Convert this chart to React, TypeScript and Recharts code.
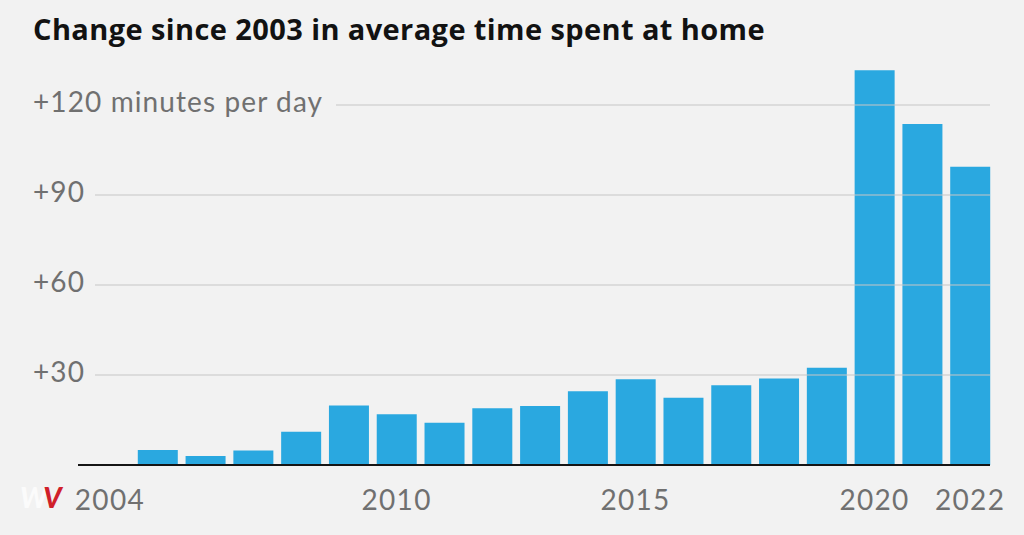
import React from 'react';
import { BarChart, Bar, XAxis, YAxis } from 'recharts';

// Change since 2003 in average daily minutes spent at home
const years = [
  '2004', '2005', '2006', '2007', '2008', '2009', '2010', '2011', '2012', '2013',
  '2014', '2015', '2016', '2017', '2018', '2019', '2020', '2021', '2022',
];
const minutesChange = [
  0, 5, 3, 4.8, 11.1, 19.8, 16.9, 14.1, 18.9, 19.7,
  24.6, 28.6, 22.4, 26.6, 28.8, 32.4, 131.6, 113.7, 99.4,
];
const xTicks = ['2004', '2010', '2015', '2020', '2022'];
const yTicks = [0, 30, 60, 90, 120];

const data = years.map((year, i) => ({ year, value: minutesChange[i] }));

const BG = '#f2f2f2';
const BAR = '#2aa8e0';
const GRID = '#c6c6c6';
const LABEL = '#707070';
const FONT = 'Lato, "Open Sans", sans-serif';

const PLOT_RIGHT = 990;

// eslint-disable-next-line @typescript-eslint/no-explicit-any
function YTick({ y, payload }: any) {
  const v = payload.value as number;
  if (v === 0) {
    // baseline
    return <line x1={78} x2={PLOT_RIGHT} y1={y} y2={y} stroke="#151515" strokeWidth={2} />;
  }
  const label = v === 120 ? `+${v} minutes per day` : `+${v}`;
  const lineStart = v === 120 ? 336 : 95;
  return (
    <g>
      <text
        x={33}
        y={y}
        dy={7}
        textAnchor="start"
        fill={LABEL}
        fontSize={28}
        letterSpacing={1.1}
        fontFamily={FONT}
      >
        {label}
      </text>
      <line x1={lineStart} x2={PLOT_RIGHT} y1={y} y2={y} stroke={GRID} strokeWidth={1.2} />
    </g>
  );
}

// eslint-disable-next-line @typescript-eslint/no-explicit-any
function XTick({ x, y, payload }: any) {
  return (
    <text
      x={x}
      y={y}
      dy={37}
      textAnchor="middle"
      fill={LABEL}
      fontSize={28}
      letterSpacing={1.3}
      fontFamily={FONT}
    >
      {payload.value}
    </text>
  );
}

export default function App() {
  return (
    <div
      style={{
        position: 'fixed',
        left: 0,
        top: 0,
        width: 1024,
        height: 535,
        background: BG,
        overflow: 'hidden',
      }}
    >
      <div
        style={{
          position: 'absolute',
          left: 33,
          top: 9,
          fontFamily: '"Open Sans", Roboto, sans-serif',
          fontWeight: 700,
          fontSize: 29,
          color: '#121212',
          letterSpacing: 0.4,
          whiteSpace: 'nowrap',
        }}
      >
        Change since 2003 in average time spent at home
      </div>

      <BarChart
        width={1024}
        height={535}
        data={data}
        margin={{ top: 60, right: 30, bottom: 0, left: 85 }}
        barCategoryGap={4}
        style={{ position: 'absolute', left: 0, top: 0 }}
      >
        <Bar dataKey="value" fill={BAR} isAnimationActive={false} />
        <XAxis
          dataKey="year"
          ticks={xTicks}
          interval={0}
          tick={<XTick />}
          tickLine={false}
          axisLine={false}
          height={70}
        />
        <YAxis
          width={1}
          domain={[0, 135]}
          ticks={yTicks}
          interval={0}
          tick={<YTick />}
          tickLine={false}
          axisLine={false}
          allowDataOverflow
        />
      </BarChart>

      {/* small logo mark, bottom left */}
      <div
        style={{
          position: 'absolute',
          left: 20,
          top: 480,
          fontFamily: FONT,
          fontWeight: 900,
          fontStyle: 'italic',
          fontSize: 28,
          lineHeight: '34px',
          whiteSpace: 'nowrap',
        }}
      >
        <span style={{ color: '#fbfbfb' }}>W</span>
        <span style={{ color: '#d0202a', marginLeft: -4 }}>V</span>
      </div>
    </div>
  );
}
